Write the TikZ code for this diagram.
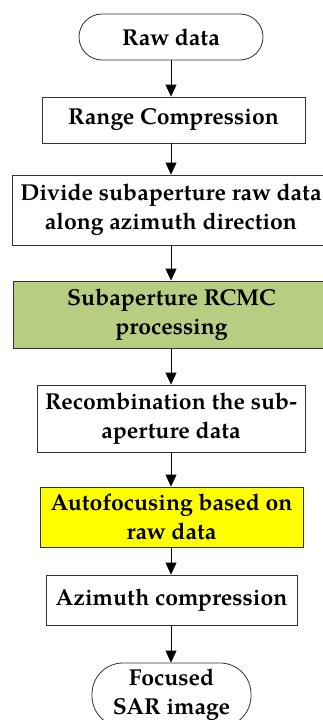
\documentclass[tikz,border=0pt]{standalone}
\usepackage{fontspec}
\setmainfont{TeX Gyre Pagella}
\usetikzlibrary{arrows.meta}
\definecolor{boxgreen}{RGB}{183,205,130}
\definecolor{boxyellow}{RGB}{255,255,0}
\begin{document}
\begin{tikzpicture}[x=1pt,y=-1pt,
  box/.style={draw=black!80, line width=0.8pt, fill=white, align=center,
    font=\bfseries\fontsize{23}{29}\selectfont, inner sep=0pt},
  term/.style={box, rounded corners=23pt},
  flow/.style={-{Triangle[width=11pt,length=12pt]}, line width=0.8pt}]
\useasboundingbox (0,0) rectangle (323,720);
% process chain, top to bottom
\node[term, minimum width=184pt, minimum height=46pt] (raw) at (171,37) {Raw data};
\node[box, minimum width=263pt, minimum height=46pt] (range) at (173.5,120) {Range Compression};
\node[box, minimum width=318pt, minimum height=70pt] (divide) at (171,210)
  {Divide subaperture raw data\\along azimuth direction};
\node[box, fill=boxgreen, minimum width=317pt, minimum height=67pt] (rcmc) at (171.5,314.5)
  {Subaperture RCMC\\processing};
\node[box, minimum width=268pt, minimum height=67pt] (recomb) at (171,418.5)
  {Recombination the sub-\\aperture data};
\node[box, fill=boxyellow, minimum width=263pt, minimum height=60pt] (autofocus) at (171.5,517)
  {Autofocusing based on\\raw data};
\node[box, minimum width=251pt, minimum height=50pt] (azimuth) at (171.5,600) {Azimuth compression};
\node[term, rounded corners=31pt, minimum width=159pt, minimum height=64pt] (image) at (171.5,695)
  {Focused\\SAR image};
% connectors
\draw[flow] (raw.south) -- (raw.south |- range.north);
\draw[flow] (raw.south |- range.south) -- (raw.south |- divide.north);
\draw[flow] (raw.south |- divide.south) -- (raw.south |- rcmc.north);
\draw[flow] (raw.south |- rcmc.south) -- (raw.south |- recomb.north);
\draw[flow] (raw.south |- recomb.south) -- (raw.south |- autofocus.north);
\draw[flow] (raw.south |- autofocus.south) -- (raw.south |- azimuth.north);
\draw[flow] (raw.south |- azimuth.south) -- (raw.south |- image.north);
\end{tikzpicture}
\end{document}
